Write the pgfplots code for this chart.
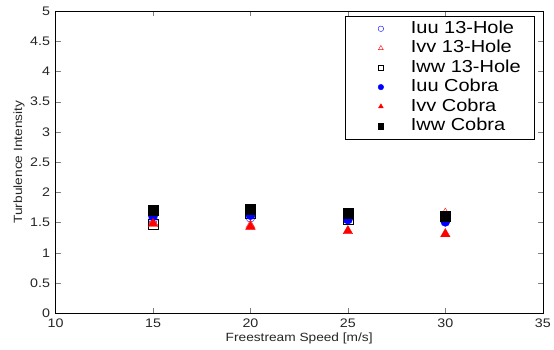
\documentclass[border=0pt]{standalone}
\usepackage{fontspec}
\setmainfont{Liberation Sans}[FakeStretch=1.15]
\usepackage{pgfplots}
\pgfplotsset{compat=1.18}
\begin{document}
\begin{tikzpicture}[x=1pt,y=1pt]
\begin{axis}[
  scale only axis, width=491pt, height=304.7pt,
  xmin=10, xmax=35, ymin=0, ymax=5,
  xtick={10,15,...,35}, ytick={0,0.5,...,5},
  tick align=inside, major tick length=5pt,
  yticklabel style={/pgf/number format/fixed, /pgf/number format/precision=1, xshift=-2pt},
  xticklabel style={yshift=-2.5pt},
  /pgf/number format/assume math mode=true,
  tick label style={font=\fontsize{12.5}{13}\selectfont, text=black!85},
  xlabel={Freestream Speed [m/s]}, ylabel={Turbulence Intensity},
  label style={font=\fontsize{12}{13}\selectfont, text=black!85},
  xlabel style={at={(axis description cs:0.5,-0.082)}, anchor=center},
  ylabel style={at={(axis description cs:-0.075,0.5)}, anchor=center},
  axis line style={black},
  legend style={at={(axis description cs:0.9837,0.9836)}, anchor=north east,
    font=\fontsize{17.5}{18}\selectfont,
    draw=black, row sep=0pt, column sep=12pt, inner xsep=12pt, inner ysep=3pt,
    nodes={text height=12.5pt, text depth=3.5pt, inner ysep=1.8pt},
    cells={anchor=west}},
  legend image code/.code={\path (0pt,0pt) (40pt,0pt);
    \draw[#1] plot coordinates {(24pt,0pt)};},
  legend image post style={mark size=2.8pt},
  legend cell align=left,
]
\addplot[only marks, mark=o, blue, mark size=4.5pt] coordinates {(15,1.55) (20,1.58) (25,1.55) (30,1.55)};
\addlegendentry{Iuu 13-Hole}
\addplot[only marks, mark=triangle, red, mark size=5.5pt] coordinates {(15,1.50) (20,1.45) (25,1.60) (30,1.65)};
\addlegendentry{Ivv 13-Hole}
\addplot[only marks, mark=square, black, mark size=5pt] coordinates {(15,1.48) (20,1.65) (25,1.55) (30,1.60)};
\addlegendentry{Iww 13-Hole}
\addplot[only marks, mark=*, blue, mark size=4.5pt] coordinates {(15,1.60) (20,1.62) (25,1.55) (30,1.51)};
\addlegendentry{Iuu Cobra}
\addplot[only marks, mark=triangle*, red, mark size=5.5pt] coordinates {(15,1.48) (20,1.43) (25,1.36) (30,1.31)};
\addlegendentry{Ivv Cobra}
\addplot[only marks, mark=square*, black, mark size=5.2pt] coordinates {(15,1.70) (20,1.72) (25,1.66) (30,1.60)};
\addlegendentry{Iww Cobra}
\end{axis}
\path[use as bounding box] (-56pt,-36.3pt) rectangle (498pt,315.7pt);
\end{tikzpicture}
\end{document}
